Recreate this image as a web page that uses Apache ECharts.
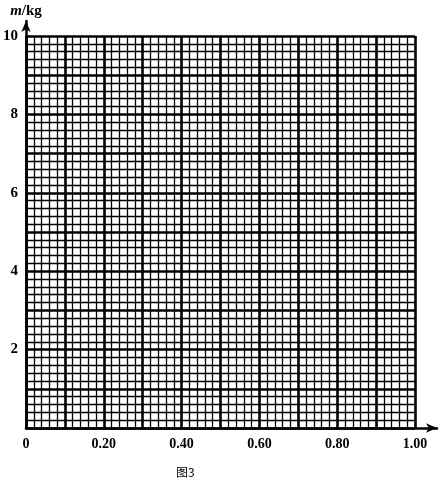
<!DOCTYPE html>
<html><head><meta charset="utf-8">
<script src="https://cdn.jsdelivr.net/npm/echarts@6/dist/echarts.min.js"></script>
<style>html,body{margin:0;padding:0;background:#fff}#c{width:441px;height:483px}</style>
</head><body><div id="c"></div>
<script>
var xRange = [0, 1.0];
var yRange = [0, 10];
var xMajorStep = 0.1;
var yMajorStep = 1;
var minorDivisions = 5;
var xTickLabels = ['0', '0.20', '0.40', '0.60', '0.80', '1.00'];
var yTickLabels = ['2', '4', '6', '8', '10'];
var yName = 'm/kg';
var caption = '图3';

var font = 'Liberation Serif';
var chart = echarts.init(document.getElementById('c'), null, {renderer: 'canvas'});
function xLabel(v) {
  var s = v === 0 ? '0' : v.toFixed(2);
  return xTickLabels.indexOf(s) >= 0 ? s : '';
}
function yLabel(v) {
  var s = String(Math.round(v));
  return yTickLabels.indexOf(s) >= 0 ? s : '';
}
chart.setOption({
  animation: false,
  backgroundColor: '#fff',
  title: {
    text: caption, left: 171, top: 461,
    textStyle: {fontFamily: 'Noto Sans CJK SC', fontSize: 12, fontWeight: 'normal', color: '#000'}
  },
  grid: [
    {left: 26, right: 26, top: 36, bottom: 55},
    {left: 26, right: 4, top: 21, bottom: 55}
  ],
  xAxis: [
    {
      gridIndex: 0, type: 'value', min: xRange[0], max: xRange[1], interval: xMajorStep,
      axisLine: {show: false}, axisTick: {show: false},
      axisLabel: {formatter: xLabel, margin: 9, color: '#000', fontFamily: font, fontWeight: 'bold', fontSize: 14, showMaxLabel: true, showMinLabel: true},
      splitLine: {show: true, lineStyle: {color: '#000', width: 2.6}},
      minorTick: {show: false, splitNumber: minorDivisions},
      minorSplitLine: {show: true, lineStyle: {color: '#000', width: 1.3}}
    },
    {
      gridIndex: 1, type: 'value', min: 0, max: 1,
      axisLine: {show: true, symbol: ['none', 'arrow'], symbolSize: [7, 11], lineStyle: {color: '#000', width: 2.5}},
      axisTick: {show: false}, axisLabel: {show: false}, splitLine: {show: false}
    }
  ],
  yAxis: [
    {
      gridIndex: 0, type: 'value', min: yRange[0], max: yRange[1], interval: yMajorStep,
      axisLine: {show: false}, axisTick: {show: false},
      axisLabel: {formatter: yLabel, margin: 8, color: '#000', fontFamily: font, fontWeight: 'bold', fontSize: 15},
      splitLine: {show: true, lineStyle: {color: '#000', width: 2.6}},
      minorTick: {show: false, splitNumber: minorDivisions},
      minorSplitLine: {show: true, lineStyle: {color: '#000', width: 1.3}}
    },
    {
      gridIndex: 1, type: 'value', min: 0, max: 1,
      name: '{i|m}{n|/kg}', nameLocation: 'end', nameGap: 2,
      nameTextStyle: {rich: {
        i: {fontFamily: font, fontStyle: 'italic', fontWeight: 'bold', fontSize: 15, color: '#000'},
        n: {fontFamily: font, fontWeight: 'bold', fontSize: 15, color: '#000'}
      }},
      axisLine: {show: true, symbol: ['none', 'arrow'], symbolSize: [7, 11], lineStyle: {color: '#000', width: 2.5}},
      axisTick: {show: false}, axisLabel: {show: false}, splitLine: {show: false}
    }
  ],
  series: []
});
</script></body></html>
